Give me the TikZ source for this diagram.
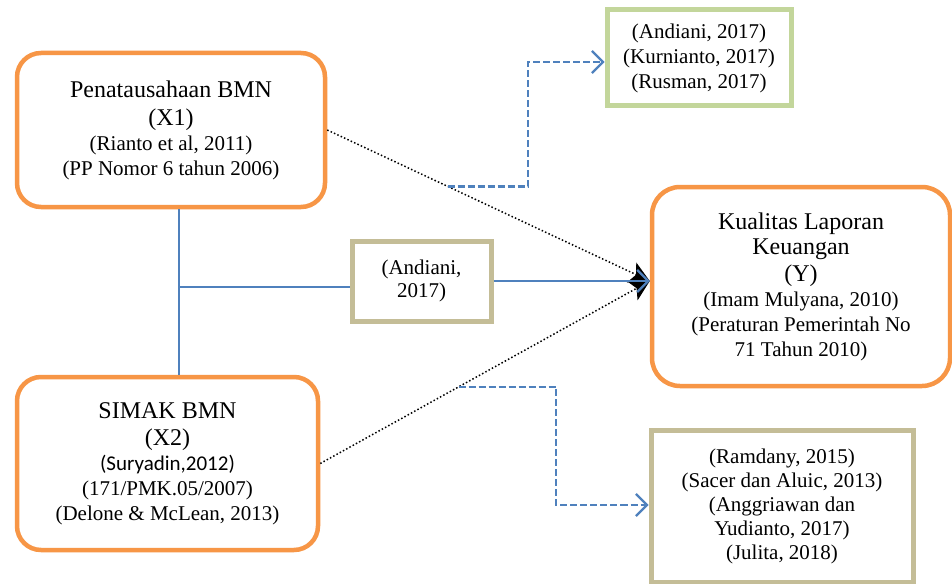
\documentclass[tikz,border=0pt]{standalone}
\usepackage{fontspec}
\setmainfont{Liberation Serif}
\newfontfamily\calib{Carlito}
\usetikzlibrary{arrows.meta,calc}
\definecolor{orng}{HTML}{F79646}
\definecolor{grn}{HTML}{C3D69B}
\definecolor{tanc}{HTML}{C4BD97}
\definecolor{blu}{HTML}{4F81BD}
\newcommand{\bigf}{\fontsize{24}{25}\selectfont}
\newcommand{\smf}{\fontsize{21}{25}\selectfont}
\begin{document}
\begin{tikzpicture}[x=1pt,y=-1pt,
  varbox/.style={draw=orng, line width=4.5pt, rounded corners=24pt, fill=white, align=center, inner sep=0pt, font=\smf},
  refbox/.style={draw=#1, line width=5pt, fill=white, align=center, inner sep=0pt, font=\smf},
  blueline/.style={draw=blu, line width=2.6pt},
  dashline/.style={draw=blu, line width=2.6pt, dash pattern=on 7pt off 3pt, -{Straight Barb[length=11pt,width=22pt,line width=2.3pt]}},
  dotline/.style={draw=black, line width=1.5pt, dash pattern=on 1.5pt off 2.2pt, -{Stealth[length=20pt,width=22pt,inset=5pt]}}]
\useasboundingbox (0,0) rectangle (952,583);
\fill[white] (0,0) rectangle (952,583);

\node[varbox, minimum width=308pt, minimum height=154pt] (X1) at (171,130)
  {\bigf Penatausahaan BMN\\[3pt] \bigf (X1)\\ \smf (Rianto et al, 2011)\\ \smf (PP Nomor 6 tahun 2006)};
\node[varbox, minimum width=301pt, minimum height=173pt] (X2) at (167.5,463.5)
  {\bigf SIMAK BMN\\[2pt] \bigf (X2)\\ \calib\smf (Suryadin,2012)\\ \smf (171/PMK.05/2007)\\ \smf (Delone \& McLean, 2013)};
\node[varbox, rounded corners=28pt, minimum width=298pt, minimum height=199pt] (Y) at (801,286.5)
  {\bigf Kualitas Laporan\\ \bigf Keuangan\\[2pt] \bigf (Y)\\ \smf (Imam Mulyana, 2010)\\ \smf (Peraturan Pemerintah No\\ \smf 71 Tahun 2010)};
\node[refbox=tanc, minimum width=139pt, minimum height=80pt] (M) at (421.5,281)
  {\smf (Andiani,\\[-2pt] \smf 2017)};
\node[refbox=grn, minimum width=184pt, minimum height=96pt] (G) at (699,58)
  {\smf (Andiani, 2017)\\ \smf (Kurnianto, 2017)\\ \smf (Rusman, 2017)};
\node[refbox=tanc, minimum width=262pt, minimum height=152pt] (B) at (782,506)
  {\smf (Ramdany, 2015)\\[-1pt] \smf (Sacer dan Aluic, 2013)\\[-1pt] \smf (Anggriawan dan\\[-1pt] \smf Yudianto, 2017)\\[-1pt] \smf (Julita, 2018)};

\coordinate (j) at (179,287);
\draw[blueline] (X1.south -| j) -- (X2.north -| j);
\draw[blueline] (j) -- (j -| M.west);

\coordinate (tip) at (Y.west |- M.east);
\draw[dotline] (X1.east) -- (tip);
\draw[dotline] (X2.east) -- (tip);
\draw[blueline, -{Straight Barb[length=11pt,width=22pt,line width=2.3pt]}] (M.east) -- (tip);

\path (X1.east) -- (tip) coordinate[pos=0.373] (d1);
\path (X2.east) -- (tip) coordinate[pos=0.42] (d2);
\coordinate (v1) at (528,62);
\draw[dashline] (d1) -- (d1 -| v1) -- (v1) -- (v1 -| G.west);
\coordinate (v2) at (556,505);
\draw[dashline] (d2) -- (d2 -| v2) -- (v2) -- (v2 -| B.west);
\end{tikzpicture}
\end{document}
